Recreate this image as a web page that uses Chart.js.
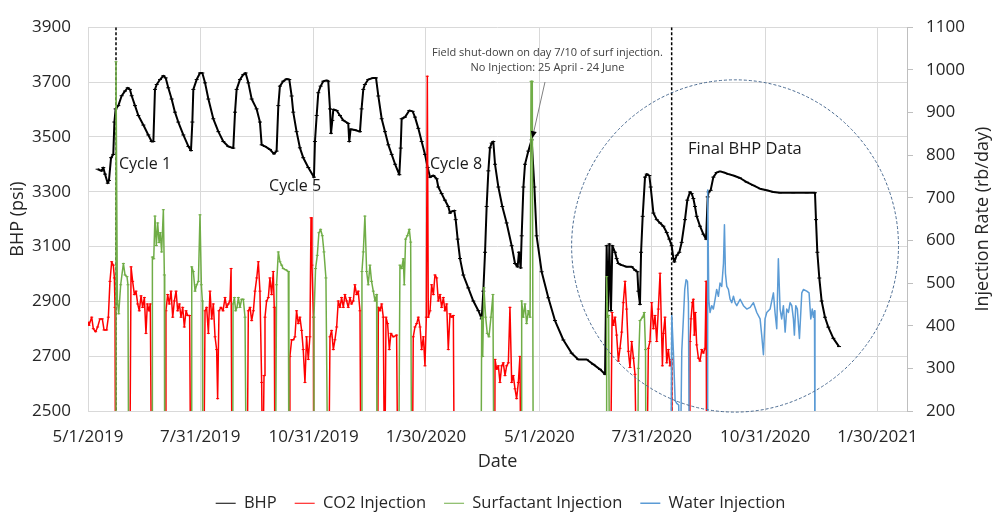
<!DOCTYPE html>
<html>
<head>
<meta charset="utf-8">
<script src="https://cdn.jsdelivr.net/npm/chart.js@4.4.1/dist/chart.umd.min.js"></script>
<style>
  html, body { margin: 0; padding: 0; background: #fff; }
</style>
</head>
<body>
<canvas id="bhpChart" width="1001" height="512"></canvas>
<script>
// x values are days since 5/1/2019
const tickDays = [0, 91, 183, 274, 366, 457, 549, 640];
const tickLabels = ["5/1/2019", "7/31/2019", "10/31/2019", "1/30/2020", "5/1/2020", "7/31/2020", "10/31/2020", "1/30/2021"];

const bhpDays = [7.8, 11.1, 12.4, 13.8, 16.0, 17.0, 18.7, 20.5, 21.4, 22.4, 24.6, 27.3, 30.0, 32.2, 34.0, 35.4, 38.1, 40.8, 44.9, 48.9,
  51.6, 53.0, 54.3, 55.7, 58.4, 61.1, 63.0, 65.1, 67.8, 70.5, 73.2, 77.3, 81.4, 83.5, 84.6, 85.4, 88.1, 90.8, 92.7, 94.9,
  97.6, 101.6, 105.7, 109.7, 113.8, 117.8, 119.2, 120.5, 123.2, 125.9, 127.8, 130.0, 132.7, 136.7, 139.4, 140.8, 143.5, 147.5, 150.8, 152.9,
  154.3, 155.6, 158.3, 161.0, 163.2, 165.1, 166.4, 169.1, 171.8, 174.5, 178.6, 183.2, 184.0, 185.4, 186.7, 188.6, 190.8, 193.5, 194.8, 196.2,
  197.0, 198.1, 198.9, 201.6, 204.3, 207.0, 211.0, 211.8, 212.9, 216.4, 220.5, 221.8, 223.2, 224.5, 227.2, 231.3, 233.5, 235.4, 238.1, 240.8,
  243.5, 246.2, 249.0, 252.4, 253.5, 254.3, 257.0, 260.5, 263.2, 265.1, 267.8, 270.5, 273.2, 275.4, 277.3, 280.0, 282.7, 284.0, 286.7, 289.4,
  292.1, 293.5, 294.8, 297.0, 298.1, 299.7, 301.6, 304.3, 308.3, 312.4, 316.5, 319.2, 320.5, 321.9, 323.2, 324.6, 325.9, 327.3, 328.6, 330.0,
  332.7, 335.9, 339.4, 343.5, 346.2, 348.3, 349.4, 350.8, 351.6, 353.0, 354.3, 357.0, 359.7, 361.9, 363.7, 367.8, 373.2, 378.6, 385.4, 392.1,
  397.5, 404.3, 409.7, 415.1, 419.2, 420.5, 421.6, 422.7, 424.0, 425.1, 427.3, 428.6, 430.0, 432.7, 436.7, 440.8, 443.5, 445.4, 446.2, 447.5,
  448.4, 449.7, 451.6, 453.0, 455.1, 456.2, 458.4, 461.1, 463.8, 466.5, 469.2, 471.3, 473.2, 474.6, 475.4, 477.3, 479.4, 481.3, 484.0, 485.9,
  488.1, 489.4, 490.8, 492.1, 493.5, 496.2, 498.9, 501.1, 502.4, 503.2, 504.8, 507.0, 509.7, 512.4, 515.7, 519.2, 523.2, 528.6, 534.0, 539.4,
  544.8, 550.2, 555.6, 561.0, 571.8, 582.7, 589.4, 590.2, 591.3, 592.9, 594.8, 597.5, 600.2, 604.3, 608.9];
const bhpPsi = [3382, 3376, 3388, 3364, 3331, 3341, 3424, 3436, 3554, 3602, 3614, 3650, 3667, 3679, 3673, 3650, 3614, 3578, 3543, 3507,
  3483, 3483, 3673, 3691, 3709, 3723, 3715, 3679, 3638, 3590, 3554, 3507, 3465, 3450, 3554, 3673, 3709, 3733, 3733, 3697,
  3638, 3566, 3519, 3483, 3465, 3459, 3590, 3673, 3709, 3727, 3733, 3697, 3638, 3602, 3554, 3471, 3465, 3454, 3438, 3448,
  3614, 3685, 3703, 3711, 3709, 3649, 3590, 3519, 3460, 3424, 3388, 3353, 3483, 3578, 3661, 3685, 3703, 3706, 3703, 3602,
  3513, 3560, 3600, 3596, 3578, 3560, 3549, 3483, 3528, 3525, 3519, 3602, 3673, 3691, 3709, 3715, 3715, 3649, 3566, 3519,
  3471, 3436, 3400, 3362, 3459, 3566, 3572, 3596, 3593, 3572, 3531, 3483, 3436, 3388, 3353, 3359, 3347, 3317, 3293, 3269,
  3246, 3222, 3228, 3231, 3198, 3127, 3056, 2996, 2949, 2901, 2866, 2836, 2937, 3079, 3246, 3376, 3460, 3477, 3483, 3400,
  3317, 3246, 3186, 3103, 3038, 3026, 3079, 3022, 3139, 3317, 3400, 3448, 3489, 3317, 3139, 3008, 2913, 2830, 2759, 2711,
  2688, 2688, 2670, 2652, 2634, 3103, 2866, 3109, 2866, 3103, 3079, 3056, 3038, 3032, 3026, 3026, 3014, 3008, 2937, 2889,
  3079, 3210, 3353, 3364, 3359, 3317, 3222, 3198, 3186, 3174, 3151, 3127, 3103, 3056, 3044, 3068, 3079, 3115, 3198, 3269,
  3299, 3293, 3275, 3246, 3210, 3174, 3145, 3127, 3281, 3299, 3305, 3353, 3370, 3374, 3370, 3364, 3359, 3350, 3335, 3323,
  3311, 3305, 3299, 3296, 3296, 3296, 3296, 3198, 3079, 2985, 2901, 2842, 2806, 2765, 2735];

const co2Days = [0, 0.8, 3.0, 4.3, 6.2, 7.8, 9.7, 11.6, 13.0, 15.1, 16.5, 17.8, 19.2, 20.5, 21.4, 21.9, 22.3,
  33.8, 34.9, 36.2, 37.6, 38.9, 40.3, 41.6, 43.0, 44.3, 45.7, 47.0, 48.1, 49.5, 50.5, 51.6,
  62.7, 63.2, 64.6, 65.9, 67.3, 68.7, 70.0, 71.4, 72.7, 74.1, 75.4, 76.8, 78.1, 79.5, 80.8, 82.4, 83.3,
  93.8, 94.9, 96.2, 97.6, 98.9, 100.3, 101.6, 103.0, 104.3, 105.1, 106.2, 107.8, 109.5, 111.1, 112.4, 113.8, 115.1, 116.0, 116.8,
  128.9, 130.0, 131.4, 132.7, 134.1, 135.4, 136.8, 138.1, 139.4, 140.8, 141.6, 142.7, 143.5, 144.8, 146.2, 147.5, 148.9, 150.2, 151.0, 151.6,
  163.2, 163.7, 165.1, 166.4, 167.8, 169.1, 170.5, 171.8, 173.2, 174.5, 175.9, 177.2, 178.6, 179.9, 180.8, 181.6, 182.7, 183.0,
  195.1, 196.2, 197.5, 198.9, 200.2, 201.6, 202.9, 204.3, 205.6, 207.0, 208.3, 209.7, 211.0, 212.4, 213.7, 215.1, 216.4, 217.8, 219.1, 220.5, 221.3,
  234.8, 235.4, 236.7, 238.1, 239.4, 240.5, 241.6, 242.9, 244.3, 245.6, 247.5, 250.2, 251.3,
  262.9, 263.7, 265.1, 266.5, 267.8, 269.2, 270.5, 271.9, 273.2, 274.3, 275.1, 275.9, 277.3, 278.6, 280.0, 281.3, 282.7, 284.0, 285.4, 286.7,
  288.1, 289.4, 290.8, 292.1, 293.5, 294.8, 296.2, 297.0,
  329.7, 330.0, 331.3, 332.7, 334.0, 335.4, 336.7, 338.1, 339.4, 340.8, 342.1, 343.5, 344.8, 346.2, 347.5, 348.9, 350.2, 351.0,
  423.5, 424.9, 425.9, 427.3, 428.6, 430.0, 431.3, 432.7, 434.0, 435.4, 436.7, 438.1, 439.4, 440.8, 442.2, 443.5, 444.9,
  452.9, 454.3, 455.6, 457.0, 458.4, 459.7, 461.1, 462.4, 463.8, 465.7, 466.5, 467.8, 469.2, 470.5, 471.9, 473.2, 473.8,
  487.9, 488.1, 488.9, 490.0, 490.8, 491.6, 492.4, 493.5, 494.9, 496.2, 497.6, 498.9, 500.3, 501.1, 501.6];
const co2Rate = [408, 401, 420, 393, 386, 397, 416, 416, 390, 390, 420, 504, 550, 542, 512, 443, 0,
  0, 538, 504, 473, 481, 451, 435, 470, 443, 466, 382, 451, 435, 451, 0,
  0, 435, 473, 451, 481, 420, 458, 481, 435, 451, 420, 443, 397, 435, 424, 424, 0,
  0, 435, 443, 382, 481, 416, 451, 374, 344, 229, 435, 443, 435, 466, 443, 451, 458, 534, 0,
  0, 435, 443, 412, 435, 481, 512, 550, 481, 267, 0, 283, 420, 458, 466, 512, 473, 527, 443, 0,
  0, 328, 367, 367, 374, 435, 405, 420, 389, 344, 267, 374, 321, 374, 653, 542, 420, 0,
  0, 374, 389, 344, 367, 397, 458, 443, 466, 443, 473, 458, 443, 466, 451, 458, 496, 473, 481, 435, 0,
  0, 443, 435, 451, 420, 0, 420, 405, 344, 382, 374, 378, 0,
  0, 374, 397, 405, 420, 397, 344, 374, 306, 420, 985, 420, 435, 496, 473, 519, 512, 458, 473, 443,
  466, 435, 451, 344, 428, 420, 424, 0,
  0, 321, 298, 306, 267, 306, 313, 283, 306, 313, 443, 267, 283, 252, 229, 267, 328, 0,
  0, 431, 401, 420, 378, 317, 347, 385, 454, 504, 439, 340, 302, 363, 324, 286, 0,
  0, 347, 363, 454, 393, 424, 363, 439, 523, 306, 382, 420, 313, 344, 306, 321, 0,
  0, 363, 416, 454, 462, 378, 431, 355, 324, 317, 344, 336, 347, 504, 0];

const surfDays = [22.3, 22.7, 23.8, 24.9, 26.5, 28.7, 30.0, 31.6, 32.4, 33.0,
  51.9, 52.2, 53.3, 54.3, 55.4, 56.5, 57.6, 58.6, 59.7, 61.1, 61.9, 62.2,
  83.8, 84.1, 85.4, 86.8, 88.1, 89.5, 90.8, 91.9, 92.7, 93.0,
  117.3, 117.6, 118.7, 119.7, 120.8, 121.9, 123.2, 124.6, 125.9, 127.3, 128.4,
  151.9, 152.9, 154.3, 155.6, 157.0, 158.3, 160.5, 162.4, 162.9,
  183.0, 183.2, 184.5, 185.9, 187.2, 188.6, 190.0, 191.3, 192.9, 194.5,
  221.6, 222.1, 223.2, 224.5, 225.9, 227.2, 228.6, 229.9, 231.3, 232.7, 234.0, 234.3,
  251.8, 252.9, 254.3, 255.6, 256.4, 257.5, 258.9, 260.5, 261.6, 262.4,
  318.6, 319.2, 320.0, 321.0, 322.4, 323.7, 325.1, 326.7, 328.3, 329.1,
  351.3, 351.6, 352.9, 354.3, 355.6, 357.0, 358.4, 359.2, 360.2, 361.0,
  420.0, 420.5, 421.3, 422.1, 422.9,
  445.5, 446.2, 447.5, 449.7, 451.0, 452.0, 452.4];
const surfRate = [0, 1019, 458, 428, 496, 546, 519, 515, 496, 0,
  0, 561, 557, 657, 588, 641, 595, 618, 573, 672, 519, 0,
  0, 538, 527, 481, 496, 504, 660, 496, 458, 0,
  0, 451, 466, 435, 443, 466, 443, 462, 462, 420, 0,
  0, 496, 573, 550, 542, 534, 531, 527, 0,
  0, 420, 534, 565, 618, 626, 611, 573, 512, 0,
  0, 527, 573, 657, 527, 496, 542, 504, 481, 458, 473, 0,
  0, 542, 534, 557, 496, 603, 611, 626, 596, 0,
  0, 420, 328, 489, 420, 382, 374, 420, 473, 0,
  0, 458, 420, 451, 405, 435, 420, 973, 973, 0,
  0, 515, 420, 424, 0,
  0, 300, 412, 420, 431, 344, 0];

const waterDays = [472.5, 473.3, 474.6, 476.0, 477.3, 478.9, 480.0, 481.4, 482.7, 483.8, 484.9, 486.0, 486.8, 487.6,
  501.9, 502.4, 503.3, 504.3, 505.7, 507.0, 508.4, 509.7, 511.1, 512.4, 513.8, 515.2, 516.0, 516.8, 517.9, 519.2,
  520.6, 521.9, 523.3, 524.6, 526.0, 528.7, 531.4, 534.1, 536.8, 539.5, 542.2, 544.9, 546.2, 547.6, 548.9, 550.3,
  553.0, 555.7, 557.0, 558.4, 559.7, 561.1, 562.4, 563.8, 565.2, 566.5, 567.9, 569.2, 570.6, 571.9, 572.7, 573.8,
  575.1, 576.8, 578.7, 580.0, 582.7, 584.6, 586.0, 587.2, 588.1, 589.0, 589.4];
const waterRate = [0, 424, 340, 225, 218, 214, 0, 340, 416, 485, 508, 504, 454, 0,
  0, 718, 462, 431, 447, 439, 462, 485, 469, 500, 492, 546, 637, 523, 492, 485,
  462, 454, 469, 454, 447, 462, 447, 439, 443, 454, 431, 416, 378, 332, 416, 431,
  439, 477, 431, 393, 557, 439, 416, 447, 385, 439, 431, 454, 447, 416, 378, 447,
  439, 370, 477, 485, 481, 477, 416, 439, 420, 435, 0];

// vertical dashed markers (start of Cycle 1 and of the final BHP period)
const markerDays = [22.7, 473.2];

const fontFamily = "'Open Sans', sans-serif";
Chart.defaults.font.family = fontFamily;
Chart.defaults.color = "#262626";

function toPoints(days, values) {
  return days.map((d, i) => ({ x: d, y: values[i] }));
}

const markerSets = markerDays.map((d) => ({
  label: "marker",
  data: [{ x: d, y: 3900 }, { x: d, y: 2500 }],
  yAxisID: "y",
  borderColor: "#000000",
  borderWidth: 1.5,
  borderDash: [3, 2],
  pointRadius: 0,
  order: 4,
}));

const notesPlugin = {
  id: "notes",
  afterDatasetsDraw(chart) {
    const { ctx, scales, chartArea } = chart;
    const x = scales.x, y = scales.y;
    ctx.save();

    // dashed circle round the final BHP data
    const cx = x.getPixelForValue(524.6), cy = y.getPixelForValue(3102);
    const rx = x.getPixelForValue(524.6 + 132.5) - cx;
    const ry = cy - y.getPixelForValue(3102 + 606);
    ctx.strokeStyle = "#4a6a90";
    ctx.lineWidth = 1;
    ctx.setLineDash([3, 2]);
    ctx.beginPath();
    ctx.ellipse(cx, cy, rx, ry, 0, 0, Math.PI * 2);
    ctx.stroke();
    ctx.setLineDash([]);

    // labels inside the plot
    ctx.fillStyle = "#1a1a1a";
    ctx.textBaseline = "middle";
    ctx.textAlign = "left";
    ctx.font = "16px " + fontFamily;
    ctx.fillText("Cycle 1", x.getPixelForValue(25.1), y.getPixelForValue(3401));
    ctx.fillText("Cycle 5", x.getPixelForValue(146.8), y.getPixelForValue(3319));
    ctx.fillText("Cycle 8", x.getPixelForValue(277.3), y.getPixelForValue(3398));
    ctx.font = "16.5px " + fontFamily;
    ctx.fillText("Final BHP Data", x.getPixelForValue(486.5), y.getPixelForValue(3455));

    ctx.textAlign = "center";
    ctx.fillStyle = "#404040";
    ctx.font = "11px " + fontFamily;
    ctx.fillText("Field shut-down on day 7/10 of surf injection.", x.getPixelForValue(372.5), y.getPixelForValue(3807));
    ctx.fillText("No Injection: 25 April - 24 June", x.getPixelForValue(372.5), y.getPixelForValue(3750));

    // arrow to the shut-down point
    const x0 = x.getPixelForValue(370.5), y0 = y.getPixelForValue(3700);
    const x1 = x.getPixelForValue(360.2), y1 = y.getPixelForValue(3495);
    ctx.strokeStyle = "#808080";
    ctx.lineWidth = 1;
    ctx.beginPath();
    ctx.moveTo(x0, y0);
    ctx.lineTo(x1, y1);
    ctx.stroke();
    const ang = Math.atan2(y1 - y0, x1 - x0);
    ctx.fillStyle = "#000000";
    ctx.beginPath();
    ctx.moveTo(x1, y1);
    ctx.lineTo(x1 - 7 * Math.cos(ang) + 3 * Math.sin(ang), y1 - 7 * Math.sin(ang) - 3 * Math.cos(ang));
    ctx.lineTo(x1 - 7 * Math.cos(ang) - 3 * Math.sin(ang), y1 - 7 * Math.sin(ang) + 3 * Math.cos(ang));
    ctx.closePath();
    ctx.fill();

    // secondary axis title, reading bottom to top
    ctx.save();
    ctx.translate(983, (chartArea.top + chartArea.bottom) / 2);
    ctx.rotate(-Math.PI / 2);
    ctx.fillStyle = "#262626";
    ctx.font = "18px " + fontFamily;
    ctx.textAlign = "center";
    ctx.fillText("Injection Rate (rb/day)", 0, 0);
    ctx.restore();

    ctx.restore();
  },
};

const ctx = document.getElementById("bhpChart").getContext("2d");

const bhpChart = new Chart(ctx, {
  type: "line",
  data: {
    datasets: [
      {
        label: "BHP",
        data: toPoints(bhpDays, bhpPsi),
        yAxisID: "y",
        borderColor: "#000000",
        backgroundColor: "#000000",
        borderWidth: 2,
        pointStyle: "line",
        pointRadius: 2,
        pointBorderWidth: 1,
        order: 5,
      },
      {
        label: "CO2 Injection",
        data: toPoints(co2Days, co2Rate),
        yAxisID: "y1",
        borderColor: "#ff0000",
        backgroundColor: "#ff0000",
        borderWidth: 1.5,
        pointStyle: "line",
        pointRadius: 1.5,
        pointBorderWidth: 1,
        order: 3,
      },
      {
        label: "Surfactant Injection",
        data: toPoints(surfDays, surfRate),
        yAxisID: "y1",
        borderColor: "#70ad47",
        backgroundColor: "#70ad47",
        borderWidth: 1.5,
        pointStyle: "line",
        pointRadius: 1.5,
        pointBorderWidth: 1,
        order: 2,
      },
      {
        label: "Water Injection",
        data: toPoints(waterDays, waterRate),
        yAxisID: "y1",
        borderColor: "#5b9bd5",
        backgroundColor: "#5b9bd5",
        borderWidth: 1.5,
        pointRadius: 0,
        order: 1,
      },
      ...markerSets,
    ],
  },
  options: {
    responsive: false,
    animation: false,
    layout: { padding: { top: 18, right: 0, bottom: 0, left: 0 } },
    elements: { line: { tension: 0, borderJoinStyle: "round" } },
    scales: {
      x: {
        type: "linear",
        min: 0,
        max: 664,
        afterBuildTicks: (scale) => {
          scale.ticks = tickDays.map((v) => ({ value: v }));
        },
        afterFit: (scale) => {
          scale.height = 66;
        },
        ticks: {
          callback: (value, index) => tickLabels[index],
          autoSkip: false,
          maxRotation: 0,
          padding: 16,
          font: { size: 17 },
        },
        grid: { color: "#d9d9d9", drawTicks: false },
        border: { color: "#d9d9d9" },
        title: { display: true, text: "Date", font: { size: 18 }, padding: { top: 0, bottom: 4 } },
      },
      y: {
        position: "left",
        min: 2500,
        max: 3900,
        afterFit: (scale) => {
          scale.width = 88;
        },
        ticks: { stepSize: 200, padding: 17, font: { size: 17 }, callback: (value) => String(value) },
        grid: { color: "#d9d9d9", drawTicks: false },
        border: { display: false },
        title: { display: true, text: "BHP (psi)", font: { size: 18 }, padding: { top: 7, bottom: 0 } },
      },
      y1: {
        position: "right",
        min: 200,
        max: 1100,
        afterFit: (scale) => {
          scale.width = 94;
        },
        ticks: { stepSize: 100, padding: 13, font: { size: 17 }, callback: (value) => String(value) },
        grid: { drawOnChartArea: false, color: "#bfbfbf", tickLength: 6 },
        border: { color: "#bfbfbf" },
      },
    },
    plugins: {
      tooltip: { enabled: false },
      legend: {
        position: "bottom",
        maxHeight: 35,
        labels: {
          usePointStyle: true,
          pointStyle: "line",
          pointStyleWidth: 20,
          padding: 18,
          font: { size: 16.5 },
          color: "#262626",
          filter: (item) => item.datasetIndex < 4,
          sort: (a, b) => a.datasetIndex - b.datasetIndex,
        },
      },
    },
  },
  plugins: [notesPlugin],
});
</script>
</body>
</html>
